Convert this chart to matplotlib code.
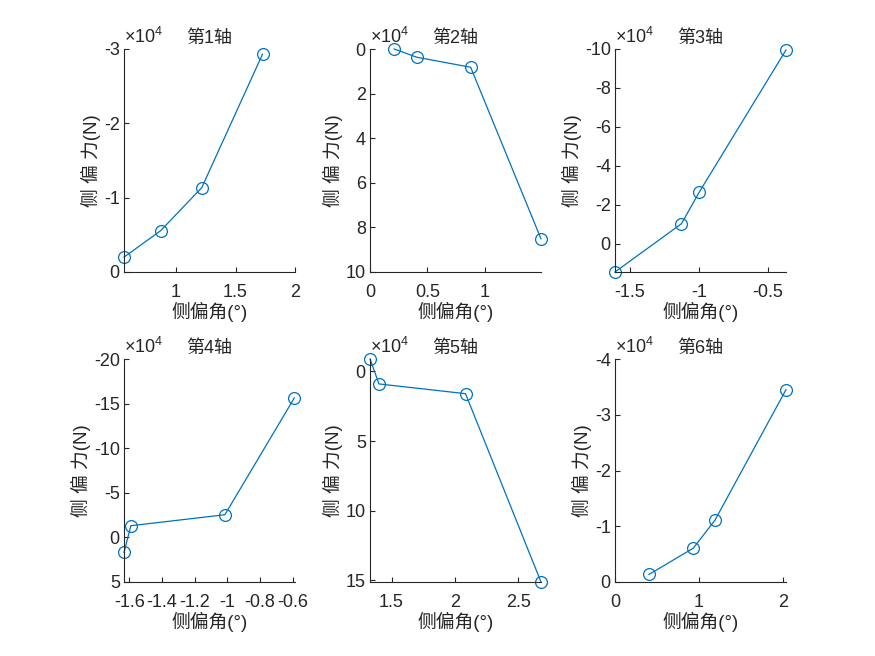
import numpy as np
import matplotlib
matplotlib.use('Agg')
import matplotlib.pyplot as plt
from matplotlib.ticker import MultipleLocator, FuncFormatter

plt.rcParams['font.family'] = ['Liberation Sans', 'Noto Sans CJK SC']
plt.rcParams['axes.unicode_minus'] = False
plt.rcParams['mathtext.fontset'] = 'custom'
plt.rcParams['mathtext.rm'] = 'Liberation Sans'

# ==========================================
# 数据: 各轴侧偏角(°) 与 侧偏力(N)
# ==========================================
titles = ['第1轴', '第2轴', '第3轴', '第4轴', '第5轴', '第6轴']

angle_1 = [0.563, 0.871, 1.216, 1.727]
force_1 = [-2000, -5560, -11340, -29300]

angle_2 = [0.211, 0.408, 0.877, 1.49]
force_2 = [-200, 3500, 8000, 85100]

angle_3 = [-1.609, -1.126, -0.995, -0.366]
force_3 = [14500, -10300, -26700, -99500]

angle_4 = [-1.632, -1.59, -1.015, -0.59]
force_4 = [16800, -13100, -25400, -156400]

angle_5 = [1.33, 1.401, 2.084, 2.68]
force_5 = [-8900, 9000, 16000, 151200]

angle_6 = [0.406, 0.934, 1.193, 2.04]
force_6 = [-1360, -6070, -11100, -34500]

angles = [angle_1, angle_2, angle_3, angle_4, angle_5, angle_6]
forces = [force_1, force_2, force_3, force_4, force_5, force_6]

# 坐标范围 (y 轴反向)
xlims = [(0.563, 2), (0, 1.49), (-1.609, -0.366), (-1.632, -0.586), (1.33, 2.68), (0, 2.04)]
ylims = [(0, -30000), (100000, -200), (14500, -100000), (50000, -200000), (151200, -8900), (0, -40000)]
xsteps = [0.5, 0.5, 0.5, 0.2, 0.5, 1]
ysteps = [10000, 20000, 20000, 50000, 50000, 10000]

TEXT = '#262626'
LINE = '#0072BD'

fig = plt.figure(figsize=(8.75, 6.56), dpi=100)

lefts = [124, 370, 615]
tops = [49, 359]
w_px, h_px = 171, 223

for i in range(6):
    r, c = divmod(i, 3)
    ax = fig.add_axes([lefts[c] / 875, 1 - (tops[r] + h_px) / 656, w_px / 875, h_px / 656])
    ax.plot(angles[i], forces[i], '-o', color=LINE, linewidth=0.9,
            markersize=8.5, markerfacecolor='none', markeredgewidth=0.9, clip_on=False)
    ax.set_xlim(*xlims[i])
    ax.set_ylim(*ylims[i])
    ax.xaxis.set_major_locator(MultipleLocator(xsteps[i]))
    ax.yaxis.set_major_locator(MultipleLocator(ysteps[i]))
    ax.xaxis.set_major_formatter(FuncFormatter(lambda v, p: f'{v:g}'))
    ax.yaxis.set_major_formatter(FuncFormatter(lambda v, p: f'{v / 1e4:g}'))
    for s in ['top', 'right']:
        ax.spines[s].set_visible(False)
    for s in ['left', 'bottom']:
        ax.spines[s].set_color(TEXT)
        ax.spines[s].set_linewidth(0.8)
    ax.tick_params(direction='in', length=3.5, width=0.8, colors=TEXT, labelsize=13)
    ax.tick_params(axis='x', pad=8.5)
    ax.tick_params(axis='y', pad=3)
    ax.set_xlabel('侧偏角(°)', fontsize=13.5, color=TEXT, labelpad=1)
    ax.set_ylabel('侧 偏 力(N)', fontsize=13.5, color=TEXT, labelpad=2)
    ax.set_title(titles[i], fontsize=13, color=TEXT, pad=4)
    ax.text(0, 1.008, r'$\times10^{4}$', transform=ax.transAxes, ha='left', va='bottom',
            fontsize=13, color=TEXT)

fig.savefig('out.png', dpi=100, facecolor='white')
